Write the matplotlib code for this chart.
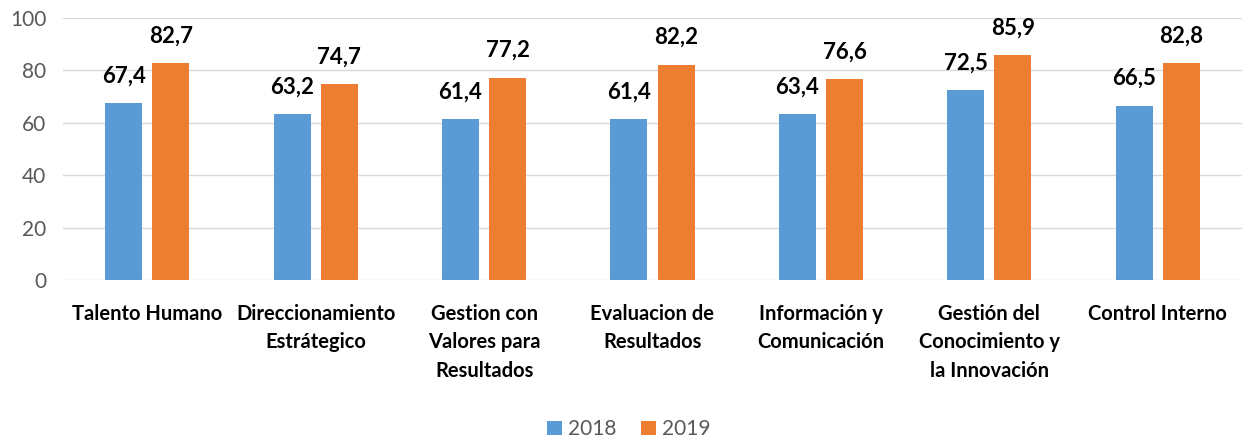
import numpy as np
import matplotlib.pyplot as plt

categorias = ["Talento Humano", "Direccionamiento\nEstrátegico",
              "Gestion con\nValores para\nResultados", "Evaluacion de\nResultados",
              "Información y\nComunicación", "Gestión del\nConocimiento y\nla Innovación",
              "Control Interno"]
valores_2018 = [67.4, 63.2, 61.4, 61.4, 63.4, 72.5, 66.5]
valores_2019 = [82.7, 74.7, 77.2, 82.2, 76.6, 85.9, 82.8]

plt.rcParams['font.family'] = ['Lato', 'DejaVu Sans']

fig = plt.figure(figsize=(12.43, 4.41), dpi=100)
ax = fig.add_axes([63/1243, 0.365, 1179/1243, 0.594])

x = np.arange(len(categorias))
w = 0.22
gap = 0.06
b1 = ax.bar(x - (w + gap)/2, valores_2018, w, color='#5B9BD5', label='2018', zorder=3)
b2 = ax.bar(x + (w + gap)/2, valores_2019, w, color='#ED7D31', label='2019', zorder=3)

# etiquetas de datos
for barras in (b1, b2):
    for r in barras:
        v = r.get_height()
        ax.annotate(f"{v:.1f}".replace('.', ','), (r.get_x() + r.get_width()/2, v),
                    xytext=(0, 12), textcoords='offset points', ha='center', va='bottom',
                    fontsize=16, fontweight='bold', color='black')

ax.set_xlim(-0.5, len(categorias) - 0.5)
ax.set_ylim(0, 100)
ax.set_yticks(range(0, 101, 20))
ax.yaxis.grid(True, color='#D9D9D9', linewidth=1, zorder=0)
for s in ax.spines.values():
    s.set_visible(False)
ax.tick_params(axis='both', length=0)
ax.tick_params(axis='y', labelsize=15, labelcolor='#595959', pad=12)
ax.set_xticks(x)
ax.set_xticklabels(categorias, fontsize=14.5, fontweight='bold', linespacing=1.55)
ax.tick_params(axis='x', pad=17)

ax.legend(loc='lower center', bbox_to_anchor=(0.48, -0.68), ncol=2, frameon=False,
          fontsize=15, handlelength=0.7, handleheight=0.7, handletextpad=0.3,
          columnspacing=1.2, labelcolor='#595959')

fig.savefig('out.png', dpi=100)
